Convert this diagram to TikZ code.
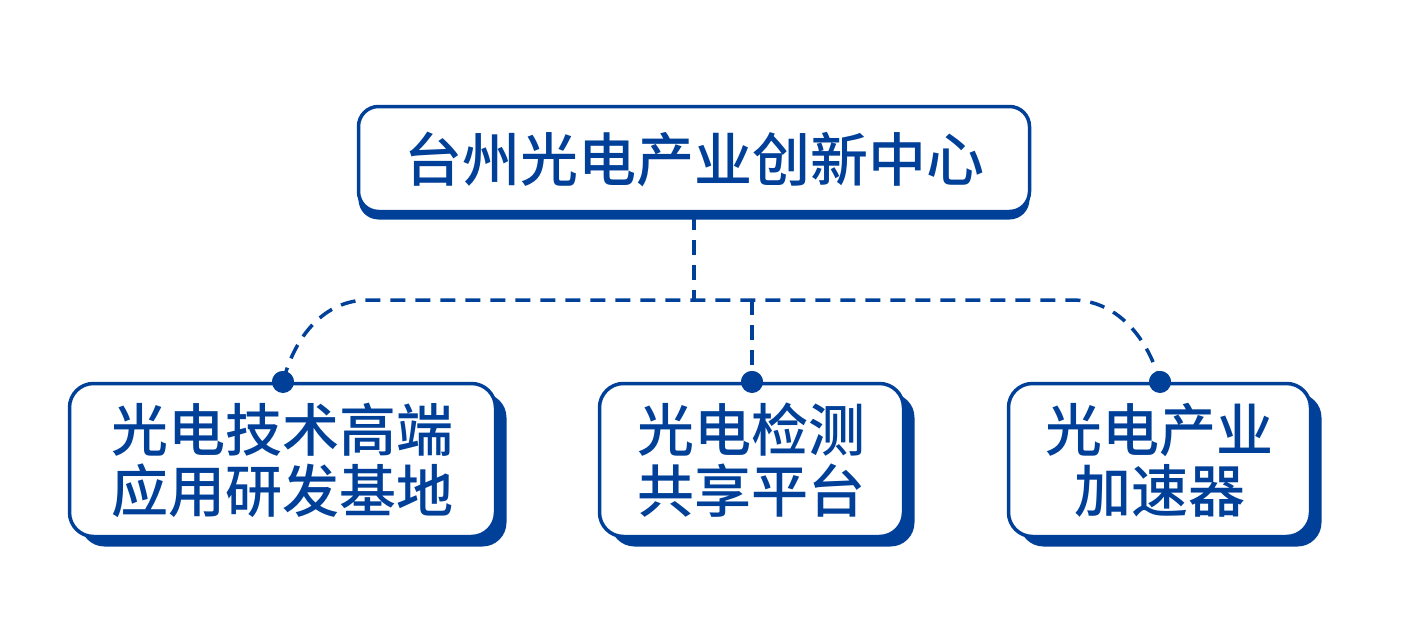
\documentclass[tikz,border=0pt]{standalone}
\usepackage{fontspec}
\newfontfamily\cjk{Noto Sans CJK SC Medium}
\usetikzlibrary{shadows}
\definecolor{mainblue}{RGB}{0,64,152}
\tikzset{
  topbox/.style={draw=mainblue, line width=3.5pt, fill=white, rounded corners=20pt,
    minimum width=671pt, minimum height=105pt, inner sep=0pt,
    text=mainblue, font=\cjk\fontsize{58}{60}\selectfont,
    drop shadow={shadow xshift=0pt, shadow yshift=-8pt, fill=mainblue, opacity=1}},
  childbox/.style={draw=mainblue, line width=3.5pt, fill=white, rounded corners=24pt,
    minimum height=153pt, inner sep=0pt, align=center,
    text=mainblue, font=\cjk\fontsize{57}{61}\selectfont,
    drop shadow={shadow xshift=11pt, shadow yshift=-10pt, fill=mainblue, opacity=1}},
  dotst/.style={circle, fill=mainblue, minimum size=22pt, inner sep=0pt},
  dashline/.style={draw=mainblue, line width=3.5pt, dash pattern=on 15pt off 10pt}
}
\begin{document}
\begin{tikzpicture}[x=1pt, y=-1pt]
\useasboundingbox (0,0) rectangle (1401,621);
% connectors
\coordinate (j) at (694,300);
\coordinate (jm) at (752,300);
\coordinate (hl) at (368,300);
\coordinate (hr) at (1072,300);
\node[dotst] (dL) at (283,382) {};
\node[dotst] (dM) at (752,382) {};
\node[dotst] (dR) at (1160,382) {};
\draw[dashline] (694,215) -- (j);
\draw[dashline] (dL.center) .. controls (295,335) and (325,300) .. (hl) -- (hr)
   .. controls (1115,300) and (1147,335) .. (dR.center);
\draw[dashline] (jm) -- (dM.center);
% boxes
\node[topbox] (top) at (694,159) {台州光电产业创新中心};
\node[childbox, minimum width=426pt] (c1) at (282.5,460) {光电技术高端\\应用研发基地};
\node[childbox, minimum width=304pt] (c2) at (751.5,460) {光电检测\\共享平台};
\node[childbox, minimum width=302pt] (c3) at (1159.5,460) {光电产业\\加速器};
% dots on top
\node[dotst] at (dL) {};
\node[dotst] at (dM) {};
\node[dotst] at (dR) {};
\end{tikzpicture}
\end{document}
